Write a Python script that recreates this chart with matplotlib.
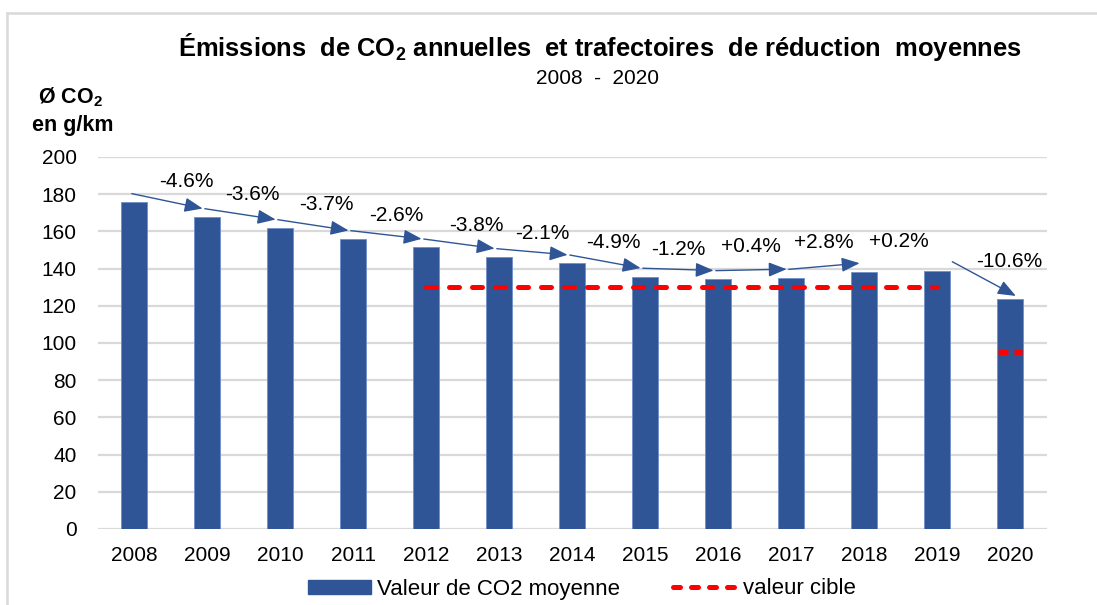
import numpy as np
import matplotlib
matplotlib.use("Agg")
import matplotlib.pyplot as plt
from matplotlib import font_manager
from matplotlib.lines import Line2D
from matplotlib.patches import Patch

installed = {f.name for f in font_manager.fontManager.ttflist}
TITLE_FONT = 'Liberation Sans Narrow' if 'Liberation Sans Narrow' in installed else 'Liberation Sans'

plt.rcParams['font.family'] = ['Liberation Sans', 'DejaVu Sans']
plt.rcParams['mathtext.fontset'] = 'custom'
plt.rcParams['mathtext.rm'] = 'Liberation Sans'
plt.rcParams['mathtext.bf'] = TITLE_FONT + ':bold'

# ---- data ----
years = ['2008', '2009', '2010', '2011', '2012', '2013', '2014',
         '2015', '2016', '2017', '2018', '2019', '2020']
co2_values = [175.8, 167.7, 161.8, 155.9, 151.4, 146.2, 142.8,
              135.7, 134.4, 135.1, 138.3, 138.9, 123.8]
target_years = ['2012', '2013', '2014', '2015', '2016', '2017', '2018', '2019']
target_values = [130, 130, 130, 130, 130, 130, 130, 130]
target_2020 = 95
change_labels = ['-4.6%', '-3.6%', '-3.7%', '-2.6%', '-3.8%', '-2.1%',
                 '-4.9%', '-1.2%', '+0.4%', '+2.8%', '+0.2%', '-10.6%']
arrow_from = ['2008', '2009', '2010', '2011', '2012', '2013', '2014',
              '2015', '2016', '2017', '2019']

BLUE = '#2F5597'
RED = '#FF0000'
GRID = '#D9D9D9'
FS = 15

W, H = 1097, 605
fig = plt.figure(figsize=(W / 100, H / 100), dpi=100)
ax = fig.add_axes([97.5 / W, 1 - 529 / H, (1046.5 - 97.5) / W, (529 - 157) / H])

x = np.arange(len(years))
idx = {y: i for i, y in enumerate(years)}

ax.bar(x, co2_values, width=0.35, color=BLUE, edgecolor='#6F8FC9', linewidth=0.6, zorder=2)

tx = [idx[y] for y in target_years]
ax.plot(tx, target_values, color=RED, lw=3.6, linestyle=(0, (2.0, 2.6)),
        dash_capstyle='round', zorder=3)
i20 = idx['2020']
ax.plot([i20 - 0.17, i20 + 0.17], [target_2020, target_2020],
        color=RED, lw=3.6, linestyle=(0, (2.0, 1.2)), dash_capstyle='butt', zorder=3)

# arrows derived from bar tops
arrow_kw = dict(arrowstyle='-|>,head_length=0.55,head_width=0.22', color=BLUE,
                lw=1.0, mutation_scale=20, shrinkA=0, shrinkB=0)
for y in arrow_from:
    i = idx[y]
    if y == '2019':
        start = (i + 0.21, co2_values[i] + 4.8)
        end = (i + 1.08, co2_values[i + 1] + 1.5)
    else:
        start = (i - 0.03, co2_values[i] + 4.5)
        end = (i + 0.94, co2_values[i + 1] + 4.6)
    ax.annotate('', xy=end, xytext=start, arrowprops=arrow_kw, zorder=4,
                annotation_clip=False)

label_pos = [(0.72, 186.7), (1.62, 180.1), (2.63, 174.7), (3.59, 168.5),
             (4.69, 163.1), (5.59, 159.0), (6.56, 154.1), (7.46, 150.4),
             (8.45, 151.8), (9.45, 154.0), (10.48, 154.8), (11.99, 143.7)]
for lab, (lx, ly) in zip(change_labels, label_pos):
    ax.text(lx, ly, lab, ha='center', va='center', fontsize=FS, color='black', zorder=5)

ax.set_xlim(-0.5, len(years) - 0.5)
ax.set_ylim(0, 200)
ax.set_yticks(np.arange(0, 201, 20))
ax.set_xticks(x)
ax.set_xticklabels(years)
ax.tick_params(axis='both', length=0, labelsize=FS, colors='black')
ax.tick_params(axis='y', pad=15)
ax.tick_params(axis='x', pad=12)
ax.grid(axis='y', color=GRID, lw=1.6, zorder=0)
ax.set_axisbelow(True)
for s in ax.spines.values():
    s.set_visible(False)

# titles
title = fig.text(600 / W, 1 - 47 / H,
                 r'Émissions  de CO$_{\mathbf{2}}$ annuelles  et trafectoires  de réduction  moyennes',
                 ha='center', va='center', fontsize=16, fontweight='bold',
                 family=[TITLE_FONT, 'Liberation Sans', 'DejaVu Sans'])
fig.canvas.draw()
tw = title.get_window_extent(fig.canvas.get_renderer()).width
title.set_fontsize(16 * 847 / tw)

fig.text(598 / W, 1 - 78 / H, '2008  -  2020', ha='center', va='center', fontsize=15)
fig.text(70 / W, 1 - 97 / H, r'Ø CO$_{\mathbf{2}}$', ha='center', va='center',
         fontsize=15.5, fontweight='bold', family=['Liberation Sans', 'DejaVu Sans'])
fig.text(73 / W, 1 - 125 / H, 'en g/km', ha='center', va='center',
         fontsize=15.5, fontweight='bold')

# outer frame (top and left edges visible)
fig.add_artist(Line2D([7 / W, 7 / W], [0, 1 - 13 / H], transform=fig.transFigure,
                      color=GRID, lw=1.8))
fig.add_artist(Line2D([7 / W, 1], [1 - 13 / H, 1 - 13 / H], transform=fig.transFigure,
                      color=GRID, lw=1.8))

# legend
LFS = 16
handles = [Patch(facecolor=BLUE, edgecolor=BLUE),
           Line2D([0], [0], color=RED, lw=3.6, linestyle=(0, (1.4, 2.2)),
                  dash_capstyle='round')]
leg = fig.legend(handles, ['Valeur de CO2 moyenne', 'valeur cible'], ncol=2,
                 loc='center', bbox_to_anchor=(581.5 / W, 1 - 589 / H), frameon=False,
                 fontsize=LFS, handlelength=2.85, handleheight=0.59, handletextpad=0.27,
                 columnspacing=2.4, borderpad=0, borderaxespad=0)

fig.savefig('out.png', dpi=100)
